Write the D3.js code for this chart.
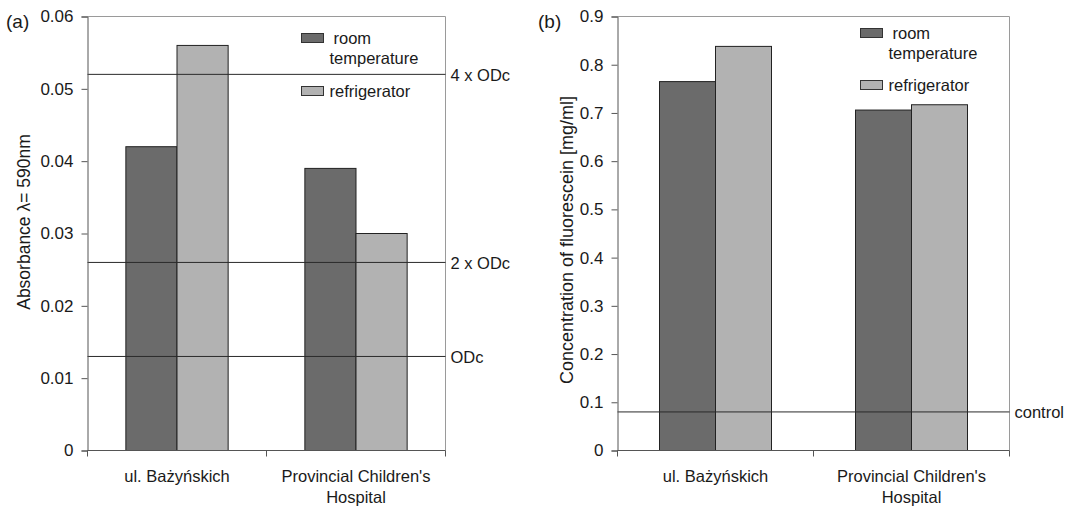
<!DOCTYPE html>
<html>
<head>
<meta charset="utf-8">
<script src="https://cdn.jsdelivr.net/npm/d3@7"></script>
<style>
  html, body { margin: 0; padding: 0; background: #fff; }
  svg text { font-family: "Liberation Sans", Arial, sans-serif; fill: #1a1a1a; }
</style>
</head>
<body>
<svg id="chart" width="1065" height="506"></svg>
<script>
// ---- data ----
const categories = ["ul. Bażyńskich", "Provincial Children's\nHospital"];
const seriesNames = ["room\ntemperature", "refrigerator"];

const absorbanceRoom = [0.042, 0.039];
const absorbanceFridge = [0.056, 0.030];
const absorbanceTicks = [0, 0.01, 0.02, 0.03, 0.04, 0.05, 0.06];
const odcLines = [0.013, 0.026, 0.052];
const odcLabels = ["ODc", "2 x ODc", "4 x ODc"];

const concRoom = [0.765, 0.706];
const concFridge = [0.838, 0.717];
const concTicks = [0, 0.1, 0.2, 0.3, 0.4, 0.5, 0.6, 0.7, 0.8, 0.9];
const controlLines = [0.08];
const controlLabels = ["control"];

const seriesColors = ["#6b6b6b", "#b2b2b2"];

const svg = d3.select("#chart");
const FS = 16.5;

function panel(opts) {
  const g = svg.append("g");
  const x = d3.scaleBand().domain(d3.range(categories.length)).range([opts.x0, opts.x1]).padding(0);
  const xs = d3.scaleBand().domain(d3.range(seriesNames.length)).range([0, x.bandwidth()])
    .paddingInner(0).paddingOuter(0.75);
  const y = d3.scaleLinear().domain([0, opts.ymax]).range([opts.y0, opts.y1]);

  // plot border (top/right)
  g.append("path")
    .attr("d", `M${opts.x0},${opts.y1}H${opts.x1}V${opts.y0}`)
    .attr("fill", "none").attr("stroke", "#9a9a9a").attr("stroke-width", 1);

  // bars
  const vals = [opts.s1, opts.s2];
  vals.forEach((arr, si) => {
    g.selectAll(null).data(arr).enter().append("rect")
      .attr("x", (d, i) => x(i) + xs(si))
      .attr("width", xs.bandwidth())
      .attr("y", d => y(d))
      .attr("height", d => y(0) - y(d))
      .attr("fill", seriesColors[si])
      .attr("stroke", "#222").attr("stroke-width", 1);
  });

  // reference lines
  opts.lines.forEach((v, i) => {
    g.append("line")
      .attr("x1", opts.x0).attr("x2", opts.x1)
      .attr("y1", y(v)).attr("y2", y(v))
      .attr("stroke", "#2a2a2a").attr("stroke-width", 1);
    g.append("text")
      .attr("x", opts.x1 + 5).attr("y", y(v) + 6.5)
      .attr("font-size", FS)
      .text(opts.lineLabels[i]);
  });

  // y axis
  const ya = g.append("g").attr("transform", `translate(${opts.x0},0)`)
    .call(d3.axisLeft(y).tickValues(opts.ticks).tickSize(6).tickPadding(8)
      .tickFormat(d => String(+d.toFixed(3))));
  ya.select(".domain").attr("stroke", "#555");
  ya.selectAll(".tick line").attr("stroke", "#555");
  ya.selectAll("text").attr("font-size", 17).attr("font-family", "Liberation Sans, Arial, sans-serif").attr("fill", "#1a1a1a");

  // x axis
  const xa = g.append("g").attr("transform", `translate(0,${opts.y0})`);
  xa.append("line").attr("x1", opts.x0).attr("x2", opts.x1).attr("y1", 0).attr("y2", 0).attr("stroke", "#555");
  const edges = d3.range(categories.length + 1).map(i => i < categories.length ? x(i) : opts.x1);
  xa.selectAll(null).data(edges).enter().append("line")
    .attr("x1", d => d).attr("x2", d => d).attr("y1", 0).attr("y2", 6).attr("stroke", "#555");
  categories.forEach((c, i) => {
    const cx = x(i) + x.bandwidth() / 2;
    const t = xa.append("text").attr("text-anchor", "middle").attr("font-size", FS)
      .attr("x", cx).attr("y", 31);
    c.split("\n").forEach((line, li) => {
      t.append("tspan").attr("x", cx).attr("dy", li === 0 ? 0 : 21.5).text(line);
    });
  });

  // y title
  svg.append("text")
    .attr("transform", `translate(${opts.titleX},${opts.titleY}) rotate(-90)`)
    .attr("text-anchor", "middle").attr("font-size", opts.titleSize)
    .text(opts.title);

  // panel label
  svg.append("text").attr("x", opts.labelX).attr("y", 28).attr("font-size", 19).text(opts.label);

  // legend
  const lg = svg.append("g").attr("transform", `translate(${opts.legX},${opts.legY})`);
  seriesNames.forEach((s, i) => {
    lg.append("rect").attr("x", 0).attr("y", opts.legRows[i]).attr("width", 22).attr("height", 9)
      .attr("fill", seriesColors[i]).attr("stroke", "#333").attr("stroke-width", 1);
    const t = lg.append("text").attr("font-size", FS).attr("y", opts.legRows[i] + opts.legBase);
    s.split("\n").forEach((line, li) => {
      t.append("tspan").attr("x", li === 0 && s.includes("\n") ? 32 : 28).attr("dy", li === 0 ? 0 : 19.5).text(line);
    });
  });
}

panel({
  x0: 87.5, x1: 445.5, y0: 450.5, y1: 16.5, ymax: 0.06,
  s1: absorbanceRoom, s2: absorbanceFridge, ticks: absorbanceTicks,
  lines: odcLines, lineLabels: odcLabels,
  title: "Absorbance λ= 590nm", titleX: 30, titleY: 222, titleSize: 17.5,
  label: "(a)", labelX: 6,
  legX: 301.5, legY: 33.5, legRows: [0, 53], legBase: 10.5
});

panel({
  x0: 617.5, x1: 1009.5, y0: 450.5, y1: 16.5, ymax: 0.9,
  s1: concRoom, s2: concFridge, ticks: concTicks,
  lines: controlLines, lineLabels: controlLabels,
  title: "Concentration of fluorescein [mg/ml]", titleX: 573, titleY: 240, titleSize: 18,
  label: "(b)", labelX: 538,
  legX: 860.5, legY: 28.5, legRows: [0, 52], legBase: 10.5
});
</script>
</body>
</html>
